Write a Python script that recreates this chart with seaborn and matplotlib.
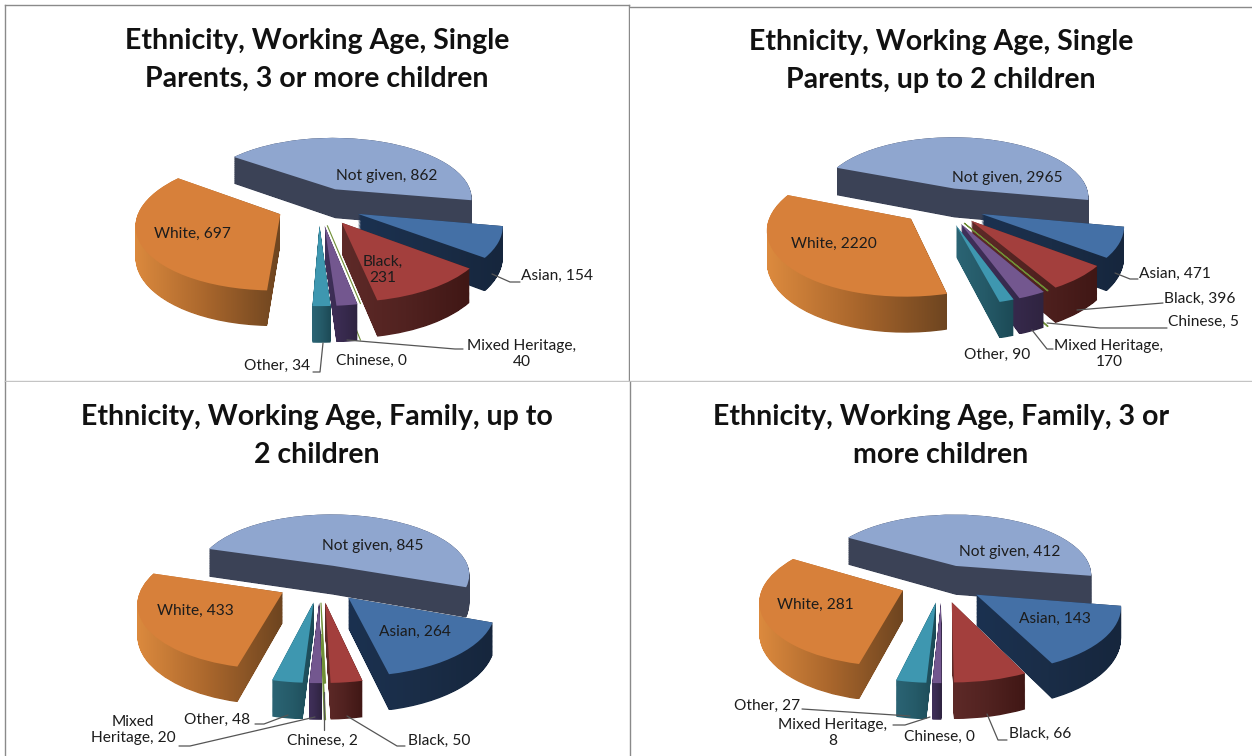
import numpy as np
import matplotlib
matplotlib.use("Agg")
import matplotlib.pyplot as plt
import seaborn as sns
from matplotlib.colors import LinearSegmentedColormap
from matplotlib.path import Path
from matplotlib.transforms import Transform

sns.set_theme(style="white")
plt.rcParams["font.family"] = ["Lato", "DejaVu Sans"]

W, H = 1252, 756
INK = "#1c1c1c"

categories = ["Asian", "Black", "Chinese", "Mixed Heritage", "Other", "White", "Not given"]
values_p1 = [154, 231, 0, 40, 34, 697, 862]
values_p2 = [471, 396, 5, 170, 90, 2220, 2965]
values_p3 = [264, 50, 2, 20, 48, 433, 845]
values_p4 = [143, 66, 0, 8, 27, 281, 412]

title_p1 = "Ethnicity, Working Age, Single\nParents, 3 or more children"
title_p2 = "Ethnicity, Working Age, Single\nParents, up to 2 children"
title_p3 = "Ethnicity, Working Age, Family, up to\n2 children"
title_p4 = "Ethnicity, Working Age, Family, 3 or\nmore children"

top_colors = ["#4470a6", "#a33f3d", "#6f8f35", "#73578f", "#3e97b0", "#d7803a", "#8fa6cf"]
side_stops = [
    ["#1b3150", "#1a2d47", "#16263d"],
    ["#5e2a28", "#512220", "#401715"],
    ["#4f6a22", "#4f6a22", "#3f5a1a"],
    ["#40305a", "#392b50", "#2f2440"],
    ["#2b6474", "#255a68", "#1c4a56"],
    ["#dc8a3e", "#a9662c", "#6e4520"],
    ["#3b4256", "#3b4256", "#3b4256"],
]


class Perspective(Transform):
    input_dims = output_dims = 2
    is_separable = False

    def __init__(self, cx, cy, ax_, ay, p, drop=0.0):
        super().__init__()
        self.v = (cx, cy, ax_, ay, p, drop)

    def transform_non_affine(self, xy):
        cx, cy, ax_, ay, p, drop = self.v
        xy = np.asarray(xy, dtype=float)
        w = 1 + p * xy[:, 1]
        return np.column_stack([cx + ax_ * xy[:, 0] / w, cy - ay * xy[:, 1] / w + drop / w])


def draw_pie(ax, values, start, cx, cy, rx, ry, p, depth, explode, sliver):
    wedges, _ = ax.pie(values, explode=[explode] * len(values), startangle=start,
                       counterclock=False, colors=top_colors, wedgeprops={"linewidth": 0})
    mids = []
    for w in wedges:
        m = np.radians((w.theta1 + w.theta2) / 2)
        mids.append(np.sin(m))
    ranks = np.argsort(np.argsort(-np.array(mids)))
    for i, w in enumerate(wedges):
        z = int(ranks[i]) * 10 + 5
        top = Perspective(cx, cy, rx, ry, p)
        w.set_transform(top + ax.transData)
        w.set_zorder(z + 1)
        base = w.get_path()
        if values[i] == 0 or w.theta2 - w.theta1 < 1:
            if sliver:
                low = Perspective(cx, cy, rx, ry, p, depth).transform_path(base)
                hi = top.transform_path(base)
                ax.add_patch(matplotlib.patches.PathPatch(
                    Path.make_compound_path(low, hi), fc="none", ec=top_colors[i], lw=0.8, zorder=z + 1))
            continue
        layers = [Perspective(cx, cy, rx, ry, p, d).transform_path(base)
                  for d in np.linspace(0, depth, 40)]
        side = Path.make_compound_path(*layers)
        x0, y0 = side.vertices.min(axis=0)
        x1, y1 = side.vertices.max(axis=0)
        cmap = LinearSegmentedColormap.from_list("s", side_stops[i])
        im = ax.imshow(np.linspace(0, 1, 64)[None, :], cmap=cmap, extent=(x0, x1, y1, y0),
                       aspect="auto", interpolation="bilinear", zorder=z)
        im.set_clip_path(side, ax.transData)


def panel(rect, values, title, title_xy, start, geom, labels, leaders, sliver, spines):
    x0, y0, x1, y1 = rect
    ax = fig.add_axes([x0 / W, 1 - y1 / H, (x1 - x0) / W, (y1 - y0) / H])
    cx, cy, rx, ry, p, depth, explode = geom
    draw_pie(ax, values, start, cx, cy, rx, ry, p, depth, explode, sliver)
    ax.set_aspect("auto")
    ax.set_xlim(x0, x1)
    ax.set_ylim(y1, y0)
    ax.set_xticks([])
    ax.set_yticks([])
    ax.set_frame_on(True)
    sns.despine(ax=ax, left=True, right=True, top=True, bottom=True)
    for name, col in spines.items():
        ax.spines[name].set_visible(True)
        ax.spines[name].set_color(col)
        ax.spines[name].set_linewidth(1.0)
    ax.text(title_xy[0], title_xy[1], title, ha="center", va="center", fontsize=TITLE_FS,
            fontweight="bold", color="#111111", linespacing=1.55, zorder=500)
    for cat, val, tpl, (lx, ly) in zip(categories, values, labels[0], labels[1]):
        ax.text(lx, ly, tpl.format(cat=cat, val=val), ha="center", va="center", fontsize=LABEL_FS,
                color=INK, zorder=500, linespacing=1.25, clip_on=False)
    for xs, ys in leaders:
        ax.plot(xs, ys, color="#555555", lw=0.9, zorder=400, clip_on=False)


TITLE_FS = 20.5
LABEL_FS = 11.2
STD = "{cat}, {val}"

fig = plt.figure(figsize=(W / 100, H / 100), dpi=100, facecolor="white")
GR = "#8a8a8a"
LG = "#c4c4c4"

panel((5, 5, 629, 381), values_p1, title_p1, (317, 60), -10.5,
      (319, 206, 140, 63, 0.14, 30, 0.3),
      ([STD, "{cat},\n{val}", STD, "{cat},\n{val}", STD, STD, STD],
       [(557, 276), (383, 270), (371, 361), (522, 354), (277, 366), (192, 234), (387, 176)]),
      [([492, 510, 520], [274, 282, 282]), ([347, 455, 463], [340, 349, 349]),
       ([323, 320, 313], [343, 372, 372])],
      True, {"left": GR, "top": GR, "right": GR, "bottom": LG})

panel((630, 7, 1252, 381), values_p2, title_p2, (941, 61), -11,
      (943, 206, 138, 63, 0.14, 30, 0.3),
      ([STD, STD, STD, "{cat},\n{val}", STD, STD, STD],
       [(1175, 274), (1200, 299), (1203, 322), (1109, 354), (997, 355), (834, 244), (1007, 178)]),
      [([1115, 1130, 1138], [273, 279, 279]), ([1077, 1163], [310, 303]),
       ([1047, 1100, 1167], [323, 328, 328]), ([1032, 1047, 1053], [330, 349, 349])],
      True, {"top": GR, "bottom": LG})

panel((5, 382, 630, 756), values_p3, title_p3, (317, 436), -20.5,
      (320, 583, 140, 63, 0.14, 30, 0.3),
      ([STD, STD, STD, "Mixed\nHeritage, {val}", STD, STD, STD],
       [(415, 632), (439, 741), (322, 741), (133, 730), (217, 720), (195, 611), (373, 546)]),
      [([255, 264, 288], [724, 724, 715]), ([179, 190, 315], [746, 746, 717]),
       ([324, 324], [692, 730]), ([347, 397, 405], [716, 746, 746])],
      True, {"left": GR})

panel((630, 382, 1252, 756), values_p4, title_p4, (941, 436), -9.5,
      (942, 583, 139, 63, 0.14, 30, 0.3),
      ([STD, STD, STD, "{cat},\n{val}", STD, STD, STD],
       [(1055, 619), (1040, 734), (939, 737), (833, 733), (767, 706), (815, 605), (1010, 552)]),
      [([802, 910], [709, 716]), ([893, 905, 930], [725, 725, 717]),
       ([987, 998, 1007], [714, 740, 740])],
      False, {"left": GR})

fig.savefig("out.png", dpi=100, facecolor="white")
